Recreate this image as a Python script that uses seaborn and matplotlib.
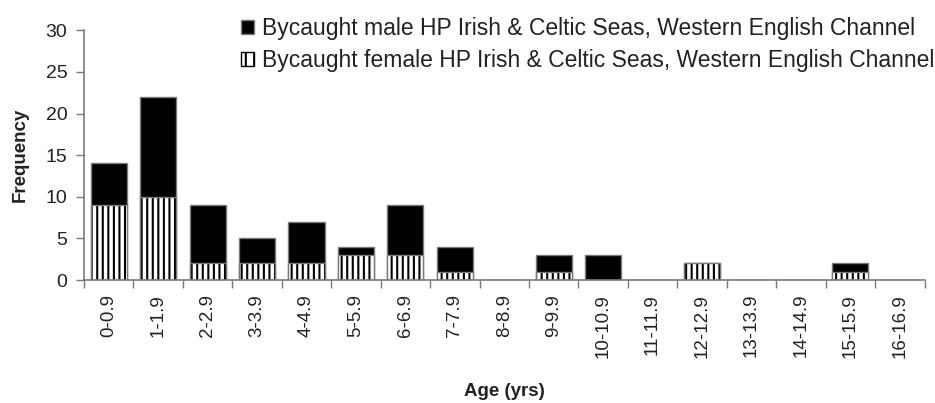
import numpy as np
import pandas as pd
import matplotlib
matplotlib.use("Agg")
import matplotlib.pyplot as plt
from matplotlib.patches import Patch
import seaborn as sns

# Age classes and bycatch counts
age_classes = ["0-0.9", "1-1.9", "2-2.9", "3-3.9", "4-4.9", "5-5.9", "6-6.9",
               "7-7.9", "8-8.9", "9-9.9", "10-10.9", "11-11.9", "12-12.9",
               "13-13.9", "14-14.9", "15-15.9", "16-16.9"]
male = [5, 12, 7, 3, 5, 1, 6, 3, 0, 2, 3, 0, 0, 0, 0, 1, 0]
female = [9, 10, 2, 2, 2, 3, 3, 1, 0, 1, 0, 0, 2, 0, 0, 1, 0]

male_label = "Bycaught male HP Irish & Celtic Seas, Western English Channel"
female_label = "Bycaught female HP Irish & Celtic Seas, Western English Channel"

df = pd.DataFrame({"age": age_classes, "male": male, "female": female})
df["total"] = df["male"] + df["female"]

sns.set_style("white")
plt.rcParams["font.family"] = ["Liberation Sans", "DejaVu Sans"]
plt.rcParams["hatch.linewidth"] = 1.5

fig = plt.figure(figsize=(9.35, 4.03), dpi=100)
ax = fig.add_axes([0.0898, 0.305, 0.899, 0.62])

edge = "#7a7a7a"
text_col = "#222222"
width = 0.73

# Stacked bars: total in black, then the female part drawn over it with hatching
sns.barplot(data=df, x="age", y="total", color="black", width=width,
            edgecolor=edge, linewidth=1.0, saturation=1, ax=ax)
sns.barplot(data=df, x="age", y="female", color="white", width=width,
            edgecolor="black", linewidth=0, hatch="|||", saturation=1, ax=ax)
sns.barplot(data=df, x="age", y="female", color="none", width=width,
            edgecolor=edge, linewidth=1.0, saturation=1, fill=False, ax=ax)

ax.set_xlim(-0.5, len(age_classes) - 0.5)
ax.set_ylim(0, 30)
ax.set_yticks(range(0, 31, 5))

# Category boundaries carry the tick marks, labels sit under the bars
ax.set_xticks(np.arange(len(age_classes)))
ax.set_xticklabels(age_classes, rotation=90)
ax.set_xticks(np.arange(-0.5, len(age_classes), 1), minor=True)
ax.tick_params(axis="x", which="major", length=0, pad=10, labelsize=13.5,
               labelcolor=text_col)
ax.tick_params(axis="x", which="minor", length=6, width=1, color=edge,
               direction="out", bottom=True)
ax.tick_params(axis="y", length=6, width=1, color=edge, direction="out",
               left=True, labelsize=14, labelcolor=text_col, pad=6)

for side in ["top", "right"]:
    ax.spines[side].set_visible(False)
for side in ["left", "bottom"]:
    ax.spines[side].set_color(edge)
    ax.spines[side].set_linewidth(1.2)

ax.set_xlabel("Age (yrs)", fontsize=13.5, fontweight="bold", color=text_col,
              labelpad=18)
ax.set_ylabel("Frequency", fontsize=13.5, fontweight="bold", color=text_col,
              labelpad=12)

handles = [Patch(facecolor="black", edgecolor=edge, label=male_label),
           Patch(facecolor="white", edgecolor="black", hatch="||",
                 label=female_label)]
ax.legend(handles=handles, loc="upper right", bbox_to_anchor=(1.036, 1.136),
          frameon=False, fontsize=16.5, handlelength=0.55, handleheight=0.55,
          handletextpad=0.35, labelspacing=0.4, labelcolor=text_col)

fig.savefig("out.png", dpi=100)
